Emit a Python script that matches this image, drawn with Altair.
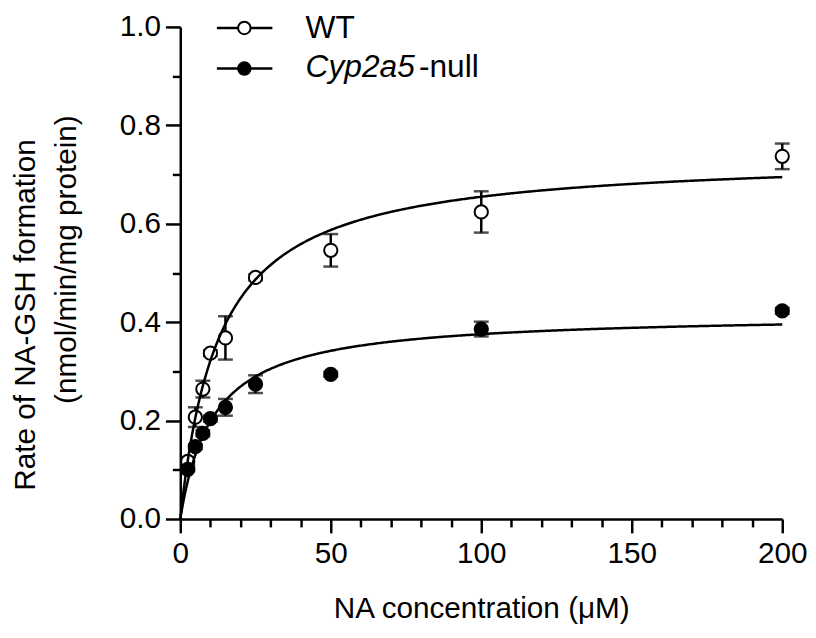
import altair as alt
import pandas as pd

# ---- data ----
conc = [2.5, 5, 7.5, 10, 15, 25, 50, 100, 200]
wt_mean = [0.117, 0.207, 0.264, 0.337, 0.368, 0.491, 0.546, 0.624, 0.737]
wt_err = [0.008, 0.020, 0.017, 0.006, 0.044, 0.006, 0.033, 0.042, 0.026]
null_mean = [0.101, 0.147, 0.174, 0.204, 0.227, 0.274, 0.294, 0.386, 0.423]
null_err = [0.004, 0.005, 0.006, 0.006, 0.017, 0.018, 0.005, 0.015, 0.006]

genotypes = ["WT", "Cyp2a5-null"]
# Michaelis-Menten fit parameters (Vmax, Km)
vmax = [0.74, 0.417]
km = [13.0, 11.0]

x_major_ticks = [0, 50, 100, 150, 200]
x_minor_ticks = [10, 20, 30, 40, 60, 70, 80, 90, 110, 120, 130, 140, 160, 170, 180, 190]
y_major_ticks = [0.0, 0.2, 0.4, 0.6, 0.8, 1.0]
y_minor_ticks = [0.1, 0.3, 0.5, 0.7, 0.9]

FONT = "Liberation Sans"

rows = []
for g, means, errs in [(genotypes[0], wt_mean, wt_err), (genotypes[1], null_mean, null_err)]:
    for c, m, e in zip(conc, means, errs):
        rows.append({"genotype": g, "conc": c, "rate": m, "lo": m - e, "hi": m + e})
pts = pd.DataFrame(rows)

xs = alt.Scale(domain=[0, 200], nice=False, zero=False)
ys = alt.Scale(domain=[0, 1.0], nice=False)

x_major = alt.Axis(values=x_major_ticks, tickSize=14, labelFontSize=30, labelPadding=6,
                   title="NA concentration (μM)", titleFontSize=30, titleFontWeight="normal",
                   titleBaseline="alphabetic", titleY=99, labelFlush=False,
                   labelOverlap=False, orient="bottom", grid=False, format="d")
y_major = alt.Axis(values=y_major_ticks, tickSize=15, labelFontSize=30, labelPadding=5,
                   title=None, orient="left", grid=False, format=".1f", labelOverlap=False)
x_minor = alt.Axis(values=x_minor_ticks, tickSize=8, labels=False, domain=False,
                   title=None, orient="bottom", grid=False)
y_minor = alt.Axis(values=y_minor_ticks, tickSize=8, labels=False, domain=False,
                   title=None, orient="left", grid=False)

fill_scale = alt.Scale(domain=genotypes, range=["white", "black"])

base = alt.Chart(pts)

err_rules = base.mark_rule(color="black", strokeWidth=2.5).encode(
    x=alt.X("conc:Q", scale=xs, axis=x_minor),
    y=alt.Y("lo:Q", scale=ys, axis=y_minor),
    y2="hi:Q",
)
caps_hi = base.mark_tick(color="black", thickness=2.5, size=15, orient="horizontal").encode(
    x=alt.X("conc:Q", scale=xs, axis=None),
    y=alt.Y("hi:Q", scale=ys, axis=None),
)
caps_lo = base.mark_tick(color="black", thickness=2.5, size=15, orient="horizontal").encode(
    x=alt.X("conc:Q", scale=xs, axis=None),
    y=alt.Y("lo:Q", scale=ys, axis=None),
)
points = base.mark_circle(stroke="black", strokeWidth=2, size=180, opacity=1).encode(
    x=alt.X("conc:Q", scale=xs, axis=x_major),
    y=alt.Y("rate:Q", scale=ys, axis=y_major),
    fill=alt.Fill("genotype:N", scale=fill_scale, legend=None),
)

curves = (
    alt.Chart(alt.sequence(0, 200.5, 0.5, as_="x"))
    .transform_calculate(
        WT=f"{vmax[0]} * datum.x / ({km[0]} + datum.x)",
        NULL=f"{vmax[1]} * datum.x / ({km[1]} + datum.x)",
    )
    .transform_fold(["WT", "NULL"], as_=["g", "v"])
    .mark_line(color="black", strokeWidth=2.5)
    .encode(
        x=alt.X("x:Q", scale=xs, axis=None),
        y=alt.Y("v:Q", scale=ys, axis=None),
        detail="g:N",
    )
)

one = alt.Data(values=[{}])

def txt(s, x, y, size, angle=0, style="normal", align="left"):
    return alt.Chart(one).mark_text(
        text=s, font=FONT, fontSize=size, angle=angle, fontStyle=style,
        align=align, baseline="middle", color="black",
    ).encode(x=alt.value(x), y=alt.value(y))

ytitle1 = txt("Rate of NA-GSH formation", -156, 291, 30, angle=270, align="center")
ytitle2 = txt("(nmol/min/mg protein)", -114, 235, 30, angle=270, align="center")

leg_line1 = alt.Chart(one).mark_rule(color="black", strokeWidth=2.5).encode(
    x=alt.value(37), x2=alt.value(93), y=alt.value(1))
leg_line2 = alt.Chart(one).mark_rule(color="black", strokeWidth=2.5).encode(
    x=alt.value(37), x2=alt.value(93), y=alt.value(42))
leg_pt1 = alt.Chart(one).mark_circle(stroke="black", strokeWidth=2, size=160, fill="white", opacity=1).encode(
    x=alt.value(64.7), y=alt.value(1))
leg_pt2 = alt.Chart(one).mark_circle(stroke="black", strokeWidth=2, size=160, fill="black", opacity=1).encode(
    x=alt.value(64.7), y=alt.value(42))
leg_t1 = txt("WT", 126.6, 1.0, 32)
leg_t2a = txt("Cyp2a5", 126.6, 40.5, 32, style="italic")
leg_t2b = txt("-null", 241.0, 40.5, 32)

chart = (
    alt.layer(err_rules, caps_hi, caps_lo, points, curves,
              ytitle1, ytitle2, leg_line1, leg_line2, leg_pt1, leg_pt2,
              leg_t1, leg_t2a, leg_t2b)
    .resolve_axis(x="independent", y="independent")
    .properties(width=608, height=497,
                autosize=alt.AutoSizeParams(type="none"),
                padding={"left": 174, "top": 16, "right": 26, "bottom": 110})
    .configure_view(stroke=None)
    .configure_axis(domainColor="black", domainWidth=2.5, tickColor="black", tickWidth=2.5,
                    labelColor="black", labelFont=FONT, titleFont=FONT, titleColor="black")
)

chart.save("out.html", embed_options={"renderer": "svg", "actions": False})
